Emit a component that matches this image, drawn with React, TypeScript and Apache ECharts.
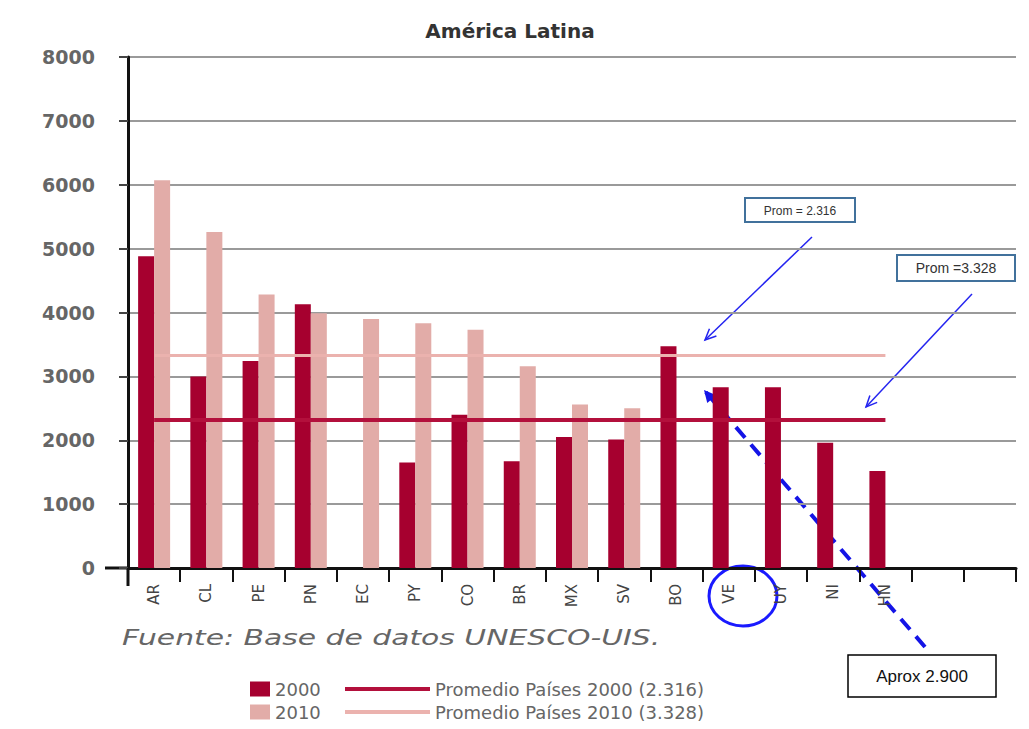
import React, { useEffect, useRef } from "react";
import * as echarts from "echarts";

const categories = ["AR", "CL", "PE", "PN", "EC", "PY", "CO", "BR", "MX", "SV", "BO", "VE", "UY", "NI", "HN", " ", "  "];
const values2000 = [4880, 3000, 3240, 4130, null, 1650, 2400, 1670, 2050, 2010, 3470, 2830, 2830, 1960, 1520, null, null];
const values2010 = [6070, 5260, 4280, 3990, 3900, 3830, 3730, 3160, 2560, 2500, null, null, null, null, null, null, null];
const yTicks = [0, 1000, 2000, 3000, 4000, 5000, 6000, 7000, 8000];
const avg2000 = 2316;
const avg2010 = 3328;
const avgStart = "AR";
const avgEnd = "HN";
const title = "América Latina";
const source = "Fuente: Base de datos UNESCO-UIS.";
const label2000 = "2000";
const label2010 = "2010";
const labelAvg2000 = "Promedio Países 2000 (2.316)";
const labelAvg2010 = "Promedio Países 2010 (3.328)";
const note1 = "Prom = 2.316";
const note2 = "Prom =3.328";
const note3 = "Aprox 2.900";

const DARK = "#A6002F";
const LIGHT = "#E2ACA8";
const AVG_DARK = "#B3103C";
const AVG_LIGHT = "#EBB2AE";
const BLUE = "#2424F0";

function arrowHead(x1: number, y1: number, x2: number, y2: number, len: number, half: number) {
  const dx = x2 - x1, dy = y2 - y1;
  const l = Math.hypot(dx, dy);
  const ux = dx / l, uy = dy / l;
  const bx = x2 - ux * len, by = y2 - uy * len;
  const nx = -uy, ny = ux;
  return [[bx + nx * half, by + ny * half], [x2, y2], [bx - nx * half, by - ny * half]];
}

export default function App() {
  const ref = useRef<HTMLDivElement>(null);
  useEffect(() => {
    if (!ref.current) return;
    const chart = echarts.init(ref.current, undefined, { renderer: "svg" });
    const a1 = { x1: 812, y1: 237, x2: 705, y2: 340 };
    const a2 = { x1: 972, y1: 294, x2: 866, y2: 407 };
    const a3 = { x1: 925, y1: 647, x2: 704, y2: 390 };
    const legendText = { fontFamily: "DejaVu Sans", fontSize: 18, color: "#666", lineHeight: 17 };
    chart.setOption({
      animation: false,
      backgroundColor: "#ffffff",
      title: {
        text: title,
        left: 505,
        top: 16,
        textAlign: "center",
        textStyle: { fontFamily: "DejaVu Sans", fontWeight: "bold", fontSize: 20, color: "#333" },
      },
      legend: [
        {
          data: [label2000, label2010],
          orient: "vertical",
          left: 250,
          top: 680,
          height: 80,
          padding: 0,
          itemWidth: 20,
          itemHeight: 15,
          itemGap: 5,
          icon: "rect",
          textStyle: legendText,
        },
        {
          data: [labelAvg2000, labelAvg2010],
          orient: "vertical",
          left: 345,
          top: 680,
          height: 80,
          padding: 0,
          itemWidth: 85,
          itemHeight: 4,
          itemGap: 5,
          icon: "rect",
          textStyle: legendText,
        },
      ],
      grid: { left: 128, right: 13, top: 57, bottom: 161 },
      xAxis: {
        type: "category",
        data: categories,
        boundaryGap: true,
        axisLine: { lineStyle: { color: "#111", width: 3 } },
        axisTick: { show: true, length: 14, lineStyle: { color: "#111", width: 2 } },
        axisLabel: {
          rotate: 90,
          margin: 16,
          interval: 0,
          fontFamily: "DejaVu Sans",
          fontSize: 15,
          color: "#444",
        },
      },
      yAxis: {
        type: "value",
        min: 0,
        max: 8000,
        interval: 1000,
        axisLine: { show: true, lineStyle: { color: "#111", width: 3 } },
        axisTick: { show: true, length: 9, lineStyle: { color: "#444", width: 2 } },
        axisLabel: {
          margin: 33,
          fontFamily: "DejaVu Sans",
          fontWeight: "bold",
          fontSize: 19,
          color: "#666",
          formatter: (v: number) => (yTicks.includes(v) ? String(v) : ""),
        },
        splitLine: { show: true, lineStyle: { color: "#9a9a9a", width: 2 } },
      },
      series: [
        {
          name: label2000,
          type: "bar",
          data: values2000,
          barWidth: 16,
          barGap: "0%",
          itemStyle: { color: DARK },
        },
        {
          name: label2010,
          type: "bar",
          data: values2010,
          barWidth: 16,
          barGap: "0%",
          itemStyle: { color: LIGHT },
        },
        {
          name: labelAvg2000,
          type: "line",
          data: [[avgStart, avg2000], [avgEnd, avg2000]],
          symbol: "none",
          z: 5,
          lineStyle: { color: AVG_DARK, width: 4 },
          itemStyle: { color: AVG_DARK },
        },
        {
          name: labelAvg2010,
          type: "line",
          data: [[avgStart, avg2010], [avgEnd, avg2010]],
          symbol: "none",
          z: 5,
          lineStyle: { color: AVG_LIGHT, width: 3 },
          itemStyle: { color: AVG_LIGHT },
        },
      ],
      graphic: [
        { type: "line", shape: { x1: 105, y1: 568, x2: 128, y2: 568 }, style: { stroke: "#111", lineWidth: 3 } },
        { type: "line", shape: { x1: 128, y1: 568, x2: 128, y2: 586 }, style: { stroke: "#111", lineWidth: 3 } },
        {
          type: "text",
          x: 122,
          y: 638,
          scaleX: 1.42,
          style: {
            text: source,
            x: 0,
            y: 0,
            fontFamily: "DejaVu Sans",
            fontStyle: "italic",
            fontSize: 21,
            fill: "#666",
            verticalAlign: "middle",
          },
        },
        // Box 1
        { type: "rect", shape: { x: 745, y: 198, width: 110, height: 24 }, style: { fill: "#fff", stroke: "#41719C", lineWidth: 2 } },
        {
          type: "text",
          style: { text: note1, x: 800, y: 211, align: "center", verticalAlign: "middle", fontFamily: "Liberation Sans", fontSize: 12, fill: "#333" },
        },
        // Box 2
        { type: "rect", shape: { x: 897, y: 255, width: 118, height: 26 }, style: { fill: "#fff", stroke: "#41719C", lineWidth: 2 } },
        {
          type: "text",
          style: { text: note2, x: 956, y: 268, align: "center", verticalAlign: "middle", fontFamily: "Liberation Sans", fontSize: 14, fill: "#333" },
        },
        // Arrow 1
        { type: "line", shape: a1, style: { stroke: BLUE, lineWidth: 1.5 } },
        { type: "polyline", shape: { points: arrowHead(a1.x1, a1.y1, a1.x2, a1.y2, 11, 5) }, style: { stroke: BLUE, lineWidth: 1.5, fill: "none" } },
        // Arrow 2
        { type: "line", shape: a2, style: { stroke: BLUE, lineWidth: 1.5 } },
        { type: "polyline", shape: { points: arrowHead(a2.x1, a2.y1, a2.x2, a2.y2, 11, 5) }, style: { stroke: BLUE, lineWidth: 1.5, fill: "none" } },
        // Dashed arrow
        { type: "line", shape: a3, style: { stroke: "#1414E6", lineWidth: 4, lineDash: [14, 9] } },
        { type: "polygon", shape: { points: arrowHead(a3.x1, a3.y1, a3.x2, a3.y2, 12, 6) }, style: { fill: "#1414E6" } },
        // Ellipse
        { type: "ellipse", shape: { cx: 743, cy: 596, rx: 34, ry: 30 }, style: { fill: "none", stroke: "#1a1aff", lineWidth: 3 } },
        // Box 3
        { type: "rect", shape: { x: 848, y: 655, width: 148, height: 42 }, style: { fill: "#fff", stroke: "#000", lineWidth: 1.5 } },
        {
          type: "text",
          style: { text: note3, x: 922, y: 676, align: "center", verticalAlign: "middle", fontFamily: "Liberation Sans", fontSize: 17, fill: "#111" },
        },
      ],
    });
    return () => chart.dispose();
  }, []);
  return <div ref={ref} style={{ width: 1029, height: 729, margin: -8 }} />;
}
